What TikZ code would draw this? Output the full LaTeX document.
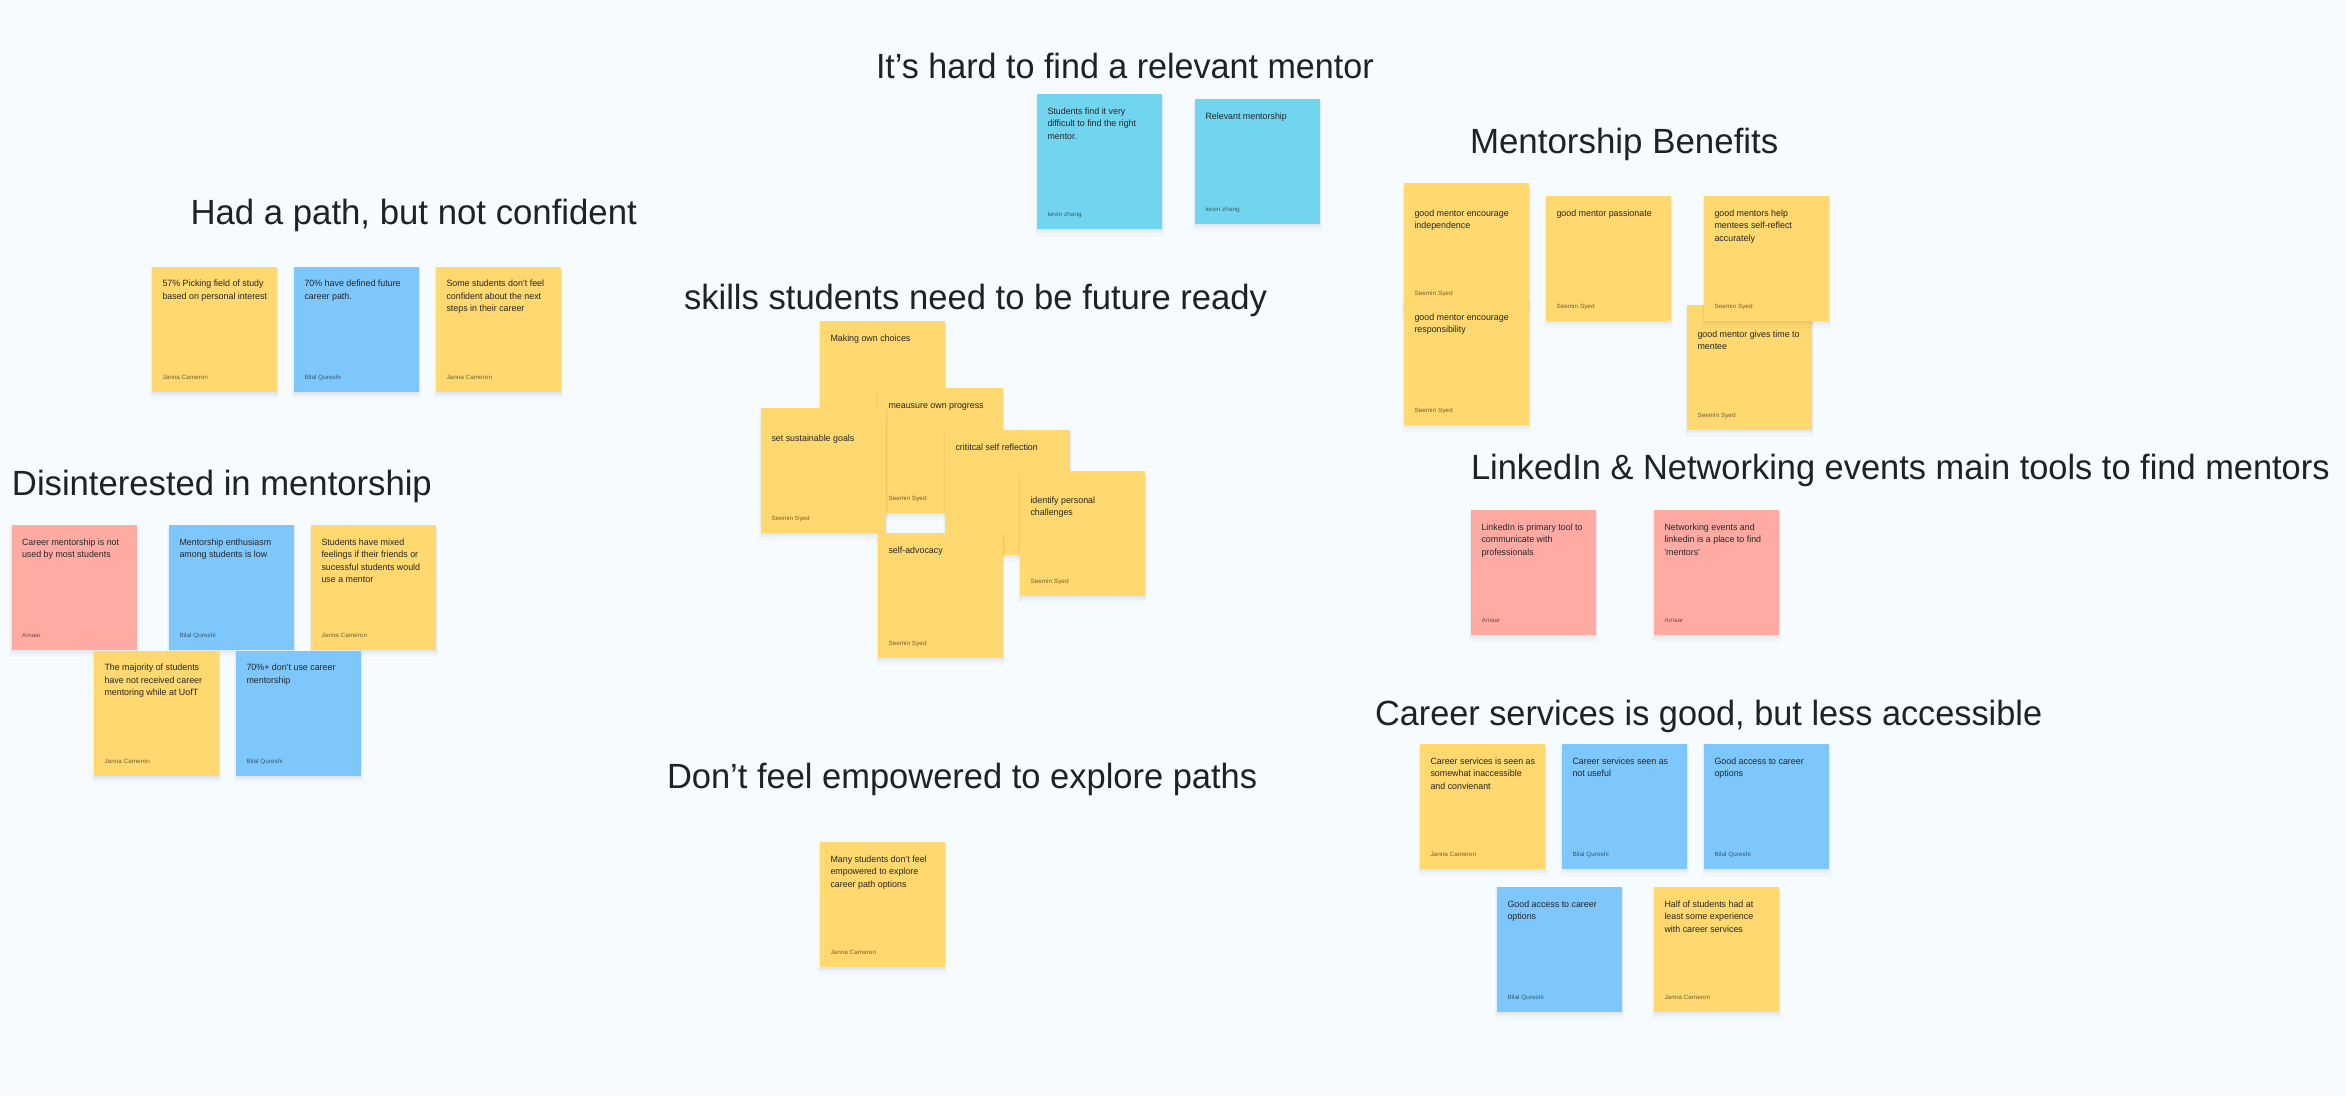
\documentclass[tikz,border=0pt]{standalone}
\usepackage{fontspec}
\usetikzlibrary{shadows}
\newfontfamily\titlefont{Liberation Sans}
\newfontfamily\bodyfont[FakeStretch=0.975]{Liberation Sans}
\newfontfamily\smallfont[FakeStretch=1.05]{Liberation Sans}
\definecolor{bgc}{HTML}{F6FBFF}
\definecolor{yel}{HTML}{FFD86F}
\definecolor{blu}{HTML}{7DC7FD}
\definecolor{red}{HTML}{FFABA4}
\definecolor{tea}{HTML}{72D5F0}
\definecolor{ink}{HTML}{1E2226}
\tikzset{
  x=1pt,y=-1pt,
  softshadow/.style={
    general shadow={fill=black,fill opacity=.018,shadow yshift=-4.5pt,shadow scale=1.035},
    general shadow={fill=black,fill opacity=.025,shadow yshift=-3pt,shadow scale=1.02},
    general shadow={fill=black,fill opacity=.03,shadow yshift=-1.5pt,shadow scale=1.008}},
  sticky/.style={rectangle,draw=none,inner sep=0pt,outer sep=0pt,softshadow,anchor=north west},
  notetext/.style={inner sep=0pt,outer sep=0pt,anchor=north west,align=left,text=black!85,
    font=\bodyfont\fontsize{9.1}{12.5}\selectfont},
  noteauthor/.style={inner sep=0pt,outer sep=0pt,anchor=base west,text=black,text opacity=.55,
    font=\smallfont\fontsize{6.1}{7}\selectfont},
  headline/.style={inner sep=0pt,outer sep=0pt,anchor=base west,text=ink,
    font=\titlefont\fontsize{35}{40}\selectfont},
}
% name, left, top, height, colour, first-baseline offset, author, text
\newcommand{\stickynote}[8]{%
  \node[sticky,fill=#5,minimum width=125pt,minimum height=#4pt] (#1) at (#2,#3) {};
  \node[notetext] (#1t) at ([shift={(10.5pt,-#6pt+8pt)}]#1.north west) {\rule{0pt}{8pt}#8};
  \node[noteauthor] (#1a) at ([shift={(10.5pt,12.5pt)}]#1.south west) {#7};
}
\newcommand{\headtext}[2]{\scalebox{#1}[1]{#2}}
\begin{document}
\begin{tikzpicture}
\useasboundingbox[fill=bgc] (0,0) rectangle (2346,1096);
% headlines
\node[headline] (h1) at (876,78) {\headtext{.974}{It’s hard to find a relevant mentor}};
\node[headline] (h2) at (190.5,224) {\headtext{.993}{Had a path, but not confident}};
\node[headline] (h3) at (684,309) {\headtext{.989}{skills students need to be future ready}};
\node[headline] (h4) at (1470,153) {\headtext{.997}{Mentorship Benefits}};
\node[headline] (h5) at (1471,479) {\headtext{.983}{LinkedIn \& Networking events main tools to find mentors}};
\node[headline] (h6) at (12,495.5) {\headtext{.99}{Disinterested in mentorship}};
\node[headline] (h7) at (1375,725) {\headtext{.98}{Career services is good, but less accessible}};
\node[headline] (h8) at (667,788) {\headtext{.985}{Don’t feel empowered to explore paths}};
% mentor
\stickynote{a1}{1037}{94}{135}{tea}{20}{kevin zhang}{Students find it very\\difficult to find the right\\mentor.}
\stickynote{a2}{1195}{99}{125}{tea}{20}{kevin zhang}{Relevant mentorship}
% had a path
\stickynote{b1}{152}{266.5}{125}{yel}{20}{Janna Cameron}{57\% Picking field of study\\based on personal interest}
\stickynote{b2}{294}{266.5}{125}{blu}{20}{Bilal Qureshi}{70\% have defined future\\career path.}
\stickynote{b3}{436}{266.5}{125}{yel}{20}{Janna Cameron}{Some students don’t feel\\confident about the next\\steps in their career}
% disinterested
\stickynote{c1}{11.5}{525}{125}{red}{20}{Amaar}{Career mentorship is not\\used by most students}
\stickynote{c2}{169}{525}{125}{blu}{20}{Bilal Qureshi}{Mentorship enthusiasm\\among students is low}
\stickynote{c3}{311}{525}{125}{yel}{20}{Janna Cameron}{Students have mixed\\feelings if their friends or\\sucessful students would\\use a mentor}
\stickynote{c4}{94}{650.5}{125}{yel}{20}{Janna Cameron}{The majority of students\\have not received career\\mentoring while at UofT}
\stickynote{c5}{236}{650.5}{125}{blu}{20}{Bilal Qureshi}{70\%+ don’t use career\\mentorship}
% skills
\stickynote{d1}{820}{321}{125}{yel}{20}{Seemin Syed}{Making own choices}
\stickynote{d2}{878}{388}{125}{yel}{20}{Seemin Syed}{meausure own progress}
\stickynote{d3}{761}{408}{125}{yel}{33}{Seemin Syed}{set sustainable goals}
\stickynote{d4}{945}{430}{125}{yel}{20}{Seemin Syed}{crititcal self reflection}
\stickynote{d5}{1020}{471}{125}{yel}{32}{Seemin Syed}{identify personal\\challenges}
\stickynote{d6}{878}{533}{125}{yel}{20}{Seemin Syed}{self-advocacy}
% benefits
\stickynote{e1}{1404}{183}{125}{yel}{33}{Seemin Syed}{good mentor encourage\\independence}
\stickynote{e2}{1404}{300}{125}{yel}{20}{Seemin Syed}{good mentor encourage\\responsibility}
\stickynote{e3}{1546}{196}{125}{yel}{20}{Seemin Syed}{good mentor passionate}
\stickynote{e4}{1687}{305}{125}{yel}{32}{Seemin Syed}{good mentor gives time to\\mentee}
\stickynote{e5}{1704}{196}{125}{yel}{20}{Seemin Syed}{good mentors help\\mentees self-reflect\\accurately}
% linkedin
\stickynote{f1}{1471}{510}{125}{red}{20}{Amaar}{LinkedIn is primary tool to\\communicate with\\professionals}
\stickynote{f2}{1654}{510}{125}{red}{20}{Amaar}{Networking events and\\linkedin is a place to find\\'mentors'}
% career services
\stickynote{g1}{1420}{744}{125}{yel}{20}{Janna Cameron}{Career services is seen as\\somewhat inaccessible\\and convienant}
\stickynote{g2}{1562}{744}{125}{blu}{20}{Bilal Qureshi}{Career services seen as\\not useful}
\stickynote{g3}{1704}{744}{125}{blu}{20}{Bilal Qureshi}{Good access to career\\options}
\stickynote{g4}{1497}{887}{125}{blu}{20}{Bilal Qureshi}{Good access to career\\options}
\stickynote{g5}{1654}{887}{125}{yel}{20}{Janna Cameron}{Half of students had at\\least some experience\\with career services}
% empowered
\stickynote{i1}{820}{842}{125}{yel}{20}{Janna Cameron}{Many students don’t feel\\empowered to explore\\career path options}
\end{tikzpicture}
\end{document}
